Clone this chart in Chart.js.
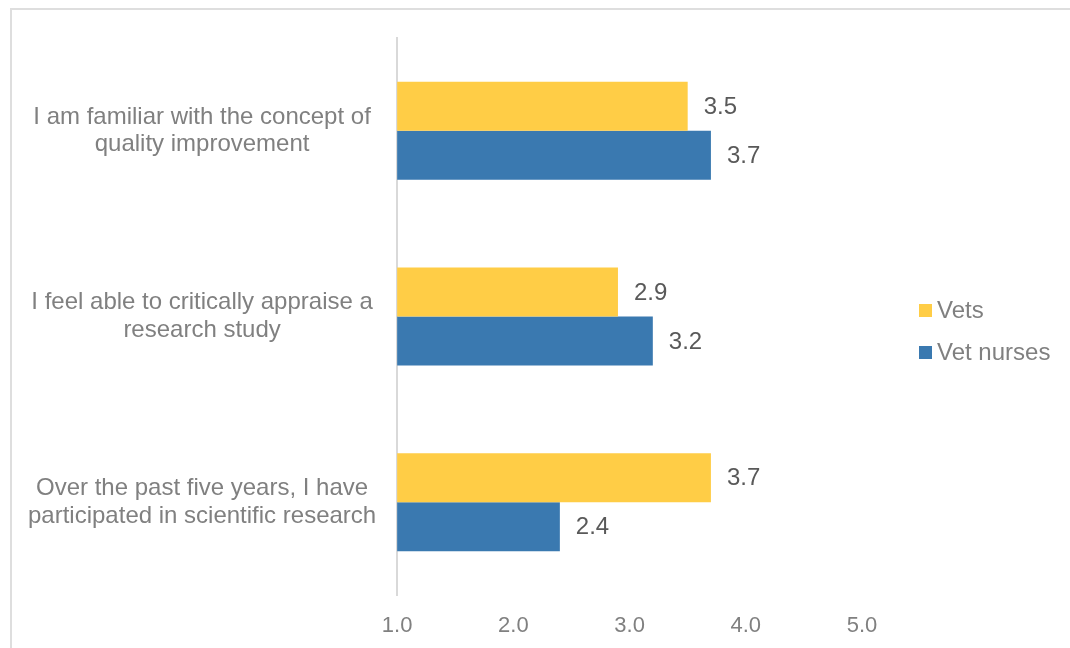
<!DOCTYPE html>
<html>
<head>
<meta charset="utf-8">
<script src="https://cdn.jsdelivr.net/npm/chart.js@4"></script>
<style>
  html, body { margin: 0; padding: 0; background: #fff; }
  #wrap { position: relative; width: 1070px; height: 648px; overflow: hidden; }
  #frame { position: absolute; left: 10px; top: 8px; width: 1100px; height: 700px;
           border: 2px solid #dedede; box-sizing: border-box; }
  #chart { position: absolute; left: 0; top: 0; }
</style>
</head>
<body>
<div id="wrap">
  <div id="frame"></div>
  <canvas id="chart" width="1070" height="648"></canvas>
</div>
<script>
var statements = [
    ["I am familiar with the concept of", "quality improvement"],
    ["I feel able to critically appraise a", "research study"],
    ["Over the past five years, I have", "participated in scientific research"]
];
var seriesNames = ["Vets", "Vet nurses"];
var vets = [3.5, 2.9, 3.7];
var vetNurses = [3.7, 3.2, 2.4];
var xTicks = [1, 2, 3, 4, 5];

var colors = ["#FFCD46", "#3A79B0"];
var fontFamily = "'Liberation Sans', Arial, sans-serif";

// value labels just past the end of each bar
var valueLabels = {
    id: "valueLabels",
    afterDatasetsDraw: function(chart){
        var ctx = chart.ctx;
        ctx.save();
        ctx.font = "24px " + fontFamily;
        ctx.fillStyle = "#595959";
        ctx.textAlign = "left";
        ctx.textBaseline = "middle";
        chart.data.datasets.forEach(function(ds, i){
            var meta = chart.getDatasetMeta(i);
            meta.data.forEach(function(bar, j){
                ctx.fillText(ds.data[j].toFixed(1), bar.x + 16, bar.y + 1);
            });
        });
        ctx.restore();
    }
};

// legend drawn to the right of the plot
var sideLegend = {
    id: "sideLegend",
    afterDraw: function(chart){
        var ctx = chart.ctx;
        var x = chart.chartArea.right + 57;
        var y0 = chart.height / 2 - 14;
        ctx.save();
        ctx.font = "24px " + fontFamily;
        ctx.textBaseline = "middle";
        chart.data.datasets.forEach(function(ds, i){
            var y = y0 + i * 42;
            ctx.fillStyle = ds.backgroundColor;
            ctx.fillRect(x, y - 6, 13, 13);
            ctx.fillStyle = "#808080";
            ctx.fillText(ds.label, x + 18, y + 1);
        });
        ctx.restore();
    }
};

var ctx = document.getElementById("chart");
var chart = new Chart(ctx, {
    type: "bar",
    data: {
        labels: statements,
        datasets: [
            { label: seriesNames[0], data: vets, backgroundColor: colors[0] },
            { label: seriesNames[1], data: vetNurses, backgroundColor: colors[1] }
        ]
    },
    options: {
        indexAxis: "y",
        responsive: false,
        animation: false,
        devicePixelRatio: 1,
        categoryPercentage: 0.528,
        barPercentage: 1,
        layout: { padding: { left: 7, right: 208, top: 38, bottom: 0 } },
        plugins: {
            legend: { display: false },
            tooltip: { enabled: false }
        },
        scales: {
            x: {
                min: xTicks[0],
                max: xTicks[xTicks.length - 1],
                afterBuildTicks: function(axis){
                    axis.ticks = xTicks.map(function(v){ return { value: v }; });
                },
                afterFit: function(axis){ axis.height = 53; },
                grid: { display: false, drawTicks: false },
                border: { display: false },
                ticks: {
                    padding: 18,
                    color: "#808080",
                    font: { family: fontFamily, size: 22 },
                    callback: function(v){ return Number(v).toFixed(1); }
                }
            },
            y: {
                afterFit: function(axis){ axis.paddingTop = 0; axis.paddingBottom = 0; },
                grid: { display: false, drawTicks: false },
                border: { display: true, color: "#d9d9d9", width: 2 },
                ticks: {
                    padding: 21,
                    crossAlign: "center",
                    color: "#808080",
                    font: { family: fontFamily, size: 24, lineHeight: 1.15 }
                }
            }
        }
    },
    plugins: [valueLabels, sideLegend]
});
</script>
</body>
</html>
